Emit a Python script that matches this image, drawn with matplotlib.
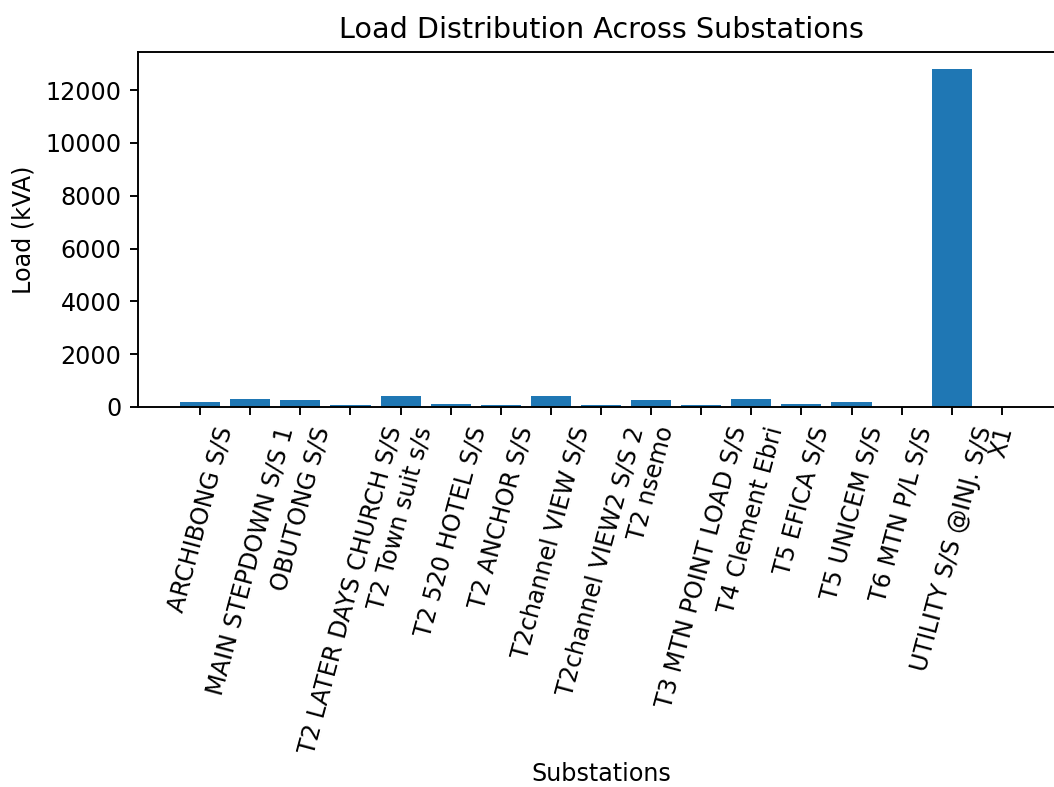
import matplotlib
matplotlib.use("Agg")
import matplotlib.pyplot as plt

substations = [
    "ARCHIBONG S/S", "MAIN STEPDOWN S/S 1", "OBUTONG S/S",
    "T2 LATER DAYS CHURCH S/S", "T2 Town suit s/s", "T2 520 HOTEL S/S",
    "T2 ANCHOR S/S", "T2channel VIEW S/S", "T2channel VIEW2 S/S 2",
    "T2 nsemo", "T3 MTN POINT LOAD S/S", "T4 Clement Ebri",
    "T5 EFICA S/S", "T5 UNICEM S/S", "T6 MTN P/L S/S",
    "UTILITY S/S @INJ. S/S", "X1",
]
load_kva = [200, 315, 250, 65, 400, 130, 65, 400, 65,
            250, 65, 315, 130, 200, 0, 12800, 0]

DPI = 172
fig = plt.figure(figsize=(1054 / DPI, 787 / DPI), dpi=DPI)
ax = fig.add_axes([138 / 1054, 1 - 407 / 787, (1064 - 138) / 1054, (407 - 52) / 787])
ax.bar(substations, load_kva, color="#1f77b4")
ax.set_title("Load Distribution Across Substations")
ax.set_xlabel("Substations", labelpad=2)
ax.set_ylabel("Load (kVA)")
ax.tick_params(axis="x", labelrotation=75)
fig.savefig("out.png", dpi=DPI)
